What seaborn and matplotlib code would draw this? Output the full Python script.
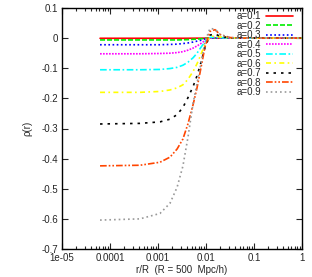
import numpy as np
import pandas as pd
import matplotlib
matplotlib.use("Agg")
import matplotlib.pyplot as plt
import seaborn as sns

# shared abscissa r/R
r_over_R = [6.2e-5, 4.2e-4, 1.1e-3, 1.78e-3, 2.5e-3, 3.3e-3, 4.2e-3, 5.4e-3, 6.5e-3,
            7.5e-3, 9.5e-3, 0.0121, 0.0154, 0.0196, 0.0316, 0.051, 0.133, 1.0]

rho_a01 = [-0.0005, -0.0005, -0.0005, -0.0005, -0.0005, -0.0005, -0.0004, -0.0003, -0.0002,
           -0.0002, -0.0001, 0.0, 0.0, 0.0, 0.0, 0.0, 0.0, 0.0]
rho_a02 = [-0.006, -0.006, -0.006, -0.006, -0.006, -0.0055, -0.005, -0.004, -0.003,
           -0.0025, -0.001, 0.0, 0.0005, 0.0, 0.0, 0.0, 0.0, 0.0]
rho_a03 = [-0.022, -0.022, -0.022, -0.021, -0.020, -0.018, -0.016, -0.013, -0.010,
           -0.008, -0.003, 0.0, 0.001, 0.0005, 0.0, 0.0, 0.0, 0.0]
rho_a04 = [-0.052, -0.052, -0.051, -0.050, -0.048, -0.045, -0.040, -0.033, -0.026,
           -0.020, -0.008, 0.0, 0.002, 0.001, 0.0, 0.0, 0.0, 0.0]
rho_a05 = [-0.105, -0.105, -0.104, -0.101, -0.097, -0.090, -0.080, -0.065, -0.050,
           -0.035, -0.012, 0.002, 0.004, 0.002, 0.0, 0.0, 0.0, 0.0]
rho_a06 = [-0.180, -0.180, -0.177, -0.172, -0.165, -0.155, -0.137, -0.110, -0.085,
           -0.062, -0.020, 0.004, 0.008, 0.004, 0.001, 0.0, 0.0, 0.0]
rho_a07 = [-0.285, -0.283, -0.278, -0.269, -0.254, -0.230, -0.198, -0.160, -0.125,
           -0.092, -0.032, 0.010, 0.014, 0.006, 0.001, 0.0, 0.0, 0.0]
rho_a08 = [-0.424, -0.422, -0.412, -0.395, -0.368, -0.335, -0.285, -0.220, -0.165,
           -0.115, -0.030, 0.022, 0.028, 0.012, 0.002, 0.0, 0.0, 0.0]
rho_a09 = [-0.604, -0.600, -0.582, -0.548, -0.495, -0.425, -0.330, -0.215, -0.150,
           -0.100, -0.012, 0.032, 0.030, 0.012, 0.002, 0.0, 0.0, 0.0]

labels = ["a=0.1", "a=0.2", "a=0.3", "a=0.4", "a=0.5", "a=0.6", "a=0.7", "a=0.8", "a=0.9"]
series = [rho_a01, rho_a02, rho_a03, rho_a04, rho_a05, rho_a06, rho_a07, rho_a08, rho_a09]

x_ticks = [1e-5, 1e-4, 1e-3, 1e-2, 1e-1, 1]
x_ticklabels = ["1e-05", "0.0001", "0.001", "0.01", "0.1", "1"]
y_ticks = [0.1, 0, -0.1, -0.2, -0.3, -0.4, -0.5, -0.6, -0.7]
y_ticklabels = ["0.1", "0", "-0.1", "-0.2", "-0.3", "-0.4", "-0.5", "-0.6", "-0.7"]

df = pd.concat([pd.DataFrame({"r": r_over_R, "rho": s, "a": lab})
                for lab, s in zip(labels, series)], ignore_index=True)

colors = ["#ff0000", "#00ee00", "#0000ff", "#ff00ff", "#00ffff",
          "#ffff00", "#000000", "#ff4500", "#999999"]
dashes = ["", (3, 1.2), (1, 1.5), (1, 0.8), (4, 1.5, 1, 1.5),
          (3, 2, 1, 2), (1.5, 3), (4, 1.2, 1, 1.2, 1, 1.2), (1, 1.8)]

sns.set_theme(style="ticks")
plt.rcParams["font.family"] = ["Liberation Sans", "DejaVu Sans"]

fig = plt.figure(figsize=(3.12, 2.77), dpi=100)
ax = fig.add_axes([62 / 312, 1 - 249 / 277, 240 / 312, 241 / 277])

sns.lineplot(data=df, x="r", y="rho", hue="a", style="a",
             palette=dict(zip(labels, colors)), dashes=dict(zip(labels, dashes)),
             linewidth=1.2, ax=ax)

ax.set_xscale("log")
ax.set_xlim(1e-5, 1)
ax.set_ylim(-0.7, 0.1)
ax.set_xticks(x_ticks)
ax.set_xticklabels(x_ticklabels)
ax.set_yticks(y_ticks)
ax.set_yticklabels(y_ticklabels)
ax.tick_params(which="both", direction="in", top=True, right=True, labelsize=7,
               width=0.8, pad=3)
ax.tick_params(which="major", length=4)
ax.tick_params(which="minor", length=2)
for sp in ax.spines.values():
    sp.set_linewidth(1.0)
    sp.set_color("black")

ax.set_xlabel("r/R  (R = 500  Mpc/h)", fontsize=7, labelpad=1)
ax.set_ylabel("ρ(r)", fontsize=7, labelpad=6)

leg = ax.legend(loc="upper right", bbox_to_anchor=(231 / 240, 238 / 241),
                frameon=False, fontsize=7, markerfirst=False,
                handlelength=2.8, labelspacing=-0.05, borderaxespad=0.0,
                handletextpad=0.5, borderpad=0.0)

fig.savefig("out.png", dpi=100)
